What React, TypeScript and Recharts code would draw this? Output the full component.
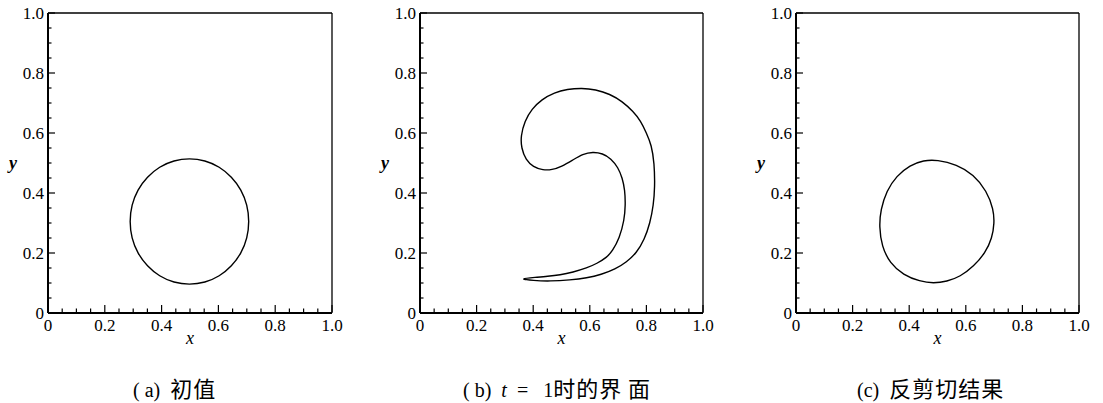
import React from 'react'
import { LineChart, Line, XAxis, YAxis } from 'recharts'

type Pt = { x: number; y: number }

// tick positions: minor every 0.05, labelled every 0.2
const tickValues = [
  0, 0.05, 0.1, 0.15, 0.2, 0.25, 0.3, 0.35, 0.4, 0.45, 0.5,
  0.55, 0.6, 0.65, 0.7, 0.75, 0.8, 0.85, 0.9, 0.95, 1.0,
]
const majorTicks = [0, 0.2, 0.4, 0.6, 0.8, 1.0]
const tickLabels = ['0', '0.2', '0.4', '0.6', '0.8', '1.0']

// (a) initial interface
const initialShape: Pt[] = [
  { x: 0.709, y: 0.305 }, { x: 0.702, y: 0.36 }, { x: 0.681, y: 0.411 },
  { x: 0.647, y: 0.454 }, { x: 0.604, y: 0.488 }, { x: 0.553, y: 0.509 },
  { x: 0.498, y: 0.516 }, { x: 0.443, y: 0.509 }, { x: 0.392, y: 0.488 },
  { x: 0.349, y: 0.454 }, { x: 0.315, y: 0.411 }, { x: 0.294, y: 0.36 },
  { x: 0.287, y: 0.305 }, { x: 0.294, y: 0.25 }, { x: 0.315, y: 0.199 },
  { x: 0.349, y: 0.156 }, { x: 0.392, y: 0.122 }, { x: 0.443, y: 0.101 },
  { x: 0.498, y: 0.094 }, { x: 0.553, y: 0.101 }, { x: 0.604, y: 0.122 },
  { x: 0.647, y: 0.156 }, { x: 0.681, y: 0.199 }, { x: 0.702, y: 0.25 },
]

// (b) interface at t = 1
const shearedShape: Pt[] = [
  { x: 0.348, y: 0.114 }, { x: 0.4, y: 0.108 }, { x: 0.46, y: 0.106 },
  { x: 0.53, y: 0.11 }, { x: 0.59, y: 0.117 }, { x: 0.64, y: 0.128 },
  { x: 0.69, y: 0.146 }, { x: 0.73, y: 0.17 }, { x: 0.765, y: 0.2 },
  { x: 0.793, y: 0.245 }, { x: 0.813, y: 0.3 }, { x: 0.825, y: 0.36 },
  { x: 0.83, y: 0.42 }, { x: 0.828, y: 0.5 }, { x: 0.818, y: 0.56 },
  { x: 0.8, y: 0.6 }, { x: 0.78, y: 0.64 }, { x: 0.753, y: 0.672 },
  { x: 0.715, y: 0.705 }, { x: 0.671, y: 0.73 }, { x: 0.62, y: 0.745 },
  { x: 0.572, y: 0.75 }, { x: 0.52, y: 0.746 }, { x: 0.475, y: 0.735 },
  { x: 0.43, y: 0.712 }, { x: 0.395, y: 0.68 }, { x: 0.37, y: 0.64 },
  { x: 0.356, y: 0.59 }, { x: 0.358, y: 0.55 }, { x: 0.374, y: 0.51 },
  { x: 0.4, y: 0.487 }, { x: 0.435, y: 0.476 }, { x: 0.466, y: 0.477 },
  { x: 0.5, y: 0.488 }, { x: 0.54, y: 0.51 }, { x: 0.575, y: 0.53 },
  { x: 0.611, y: 0.537 }, { x: 0.645, y: 0.532 }, { x: 0.675, y: 0.515 },
  { x: 0.7, y: 0.485 }, { x: 0.715, y: 0.45 }, { x: 0.724, y: 0.41 },
  { x: 0.726, y: 0.36 }, { x: 0.722, y: 0.31 }, { x: 0.705, y: 0.25 },
  { x: 0.68, y: 0.207 }, { x: 0.66, y: 0.185 }, { x: 0.625, y: 0.165 },
  { x: 0.59, y: 0.15 }, { x: 0.54, y: 0.136 }, { x: 0.495, y: 0.127 },
  { x: 0.45, y: 0.122 }, { x: 0.41, y: 0.119 },
]

// (c) after reversing the shear
const reversedShape: Pt[] = [
  { x: 0.498, y: 0.511 }, { x: 0.568, y: 0.495 }, { x: 0.627, y: 0.462 },
  { x: 0.674, y: 0.407 }, { x: 0.698, y: 0.345 }, { x: 0.701, y: 0.3 },
  { x: 0.693, y: 0.25 }, { x: 0.669, y: 0.2 }, { x: 0.628, y: 0.156 },
  { x: 0.58, y: 0.121 }, { x: 0.533, y: 0.105 }, { x: 0.486, y: 0.099 },
  { x: 0.438, y: 0.105 }, { x: 0.379, y: 0.127 }, { x: 0.332, y: 0.166 },
  { x: 0.303, y: 0.222 }, { x: 0.294, y: 0.289 }, { x: 0.299, y: 0.344 },
  { x: 0.32, y: 0.407 }, { x: 0.355, y: 0.457 }, { x: 0.403, y: 0.493 },
  { x: 0.451, y: 0.509 },
]

const serif = 'Liberation Serif, Times New Roman, Tinos, DejaVu Serif, serif'
const cjk = 'Noto Sans CJK SC, sans-serif'

const majorIndex = (v: number) => majorTicks.findIndex((m) => Math.abs(m - v) < 1e-6)

// bottom axis is 1px tall, so ticks arrive 1px below the axis line
function BottomTick({ x, y, payload }: any) {
  const i = majorIndex(payload.value)
  const y0 = y - 1
  return (
    <g>
      <line x1={x} x2={x} y1={y0} y2={y0 - (i >= 0 ? 7 : 3.5)} stroke="#000" strokeWidth={1.2} />
      {i >= 0 && (
        <text x={x} y={y0 + 19} textAnchor="middle" style={{ fontFamily: serif, fontSize: 17 }} fill="#000">
          {tickLabels[i]}
        </text>
      )}
    </g>
  )
}

function LeftTick({ x, y, payload }: any) {
  const i = majorIndex(payload.value)
  return (
    <g>
      <line x1={x} x2={x + (i >= 0 ? 7 : 3.5)} y1={y} y2={y} stroke="#000" strokeWidth={1.2} />
      {i >= 0 && (
        <text x={x - 4} y={y + 6} textAnchor="end" style={{ fontFamily: serif, fontSize: 17 }} fill="#000">
          {tickLabels[i]}
        </text>
      )}
    </g>
  )
}

const ML = 45
const MR = 25
const MT = 13
const MB = 37
const H = 350

function Panel({ data, plotLeft, plotRight }: { data: Pt[]; plotLeft: number; plotRight: number }) {
  const width = plotRight - plotLeft + ML + MR
  return (
    <div style={{ position: 'absolute', left: plotLeft - ML, top: 0 }}>
      <LineChart
        width={width}
        height={H}
        data={data}
        margin={{ top: MT - 1, right: MR - 1, bottom: MB - 1, left: ML - 1 }}
        style={{ fontFamily: serif }}
      >
        <XAxis
          xAxisId="b"
          type="number"
          dataKey="x"
          domain={[0, 1]}
          ticks={tickValues}
          interval={0}
          height={1}
          tickSize={0}
          tickMargin={0}
          tickLine={false}
          tick={<BottomTick />}
          axisLine={{ stroke: '#000', strokeWidth: 2 }}
          label={{ value: 'x', position: 'bottom', offset: 17, style: { fontFamily: serif, fontStyle: 'italic', fontSize: 18 }, fill: '#000' }}
        />
        <XAxis
          xAxisId="t"
          orientation="top"
          type="number"
          domain={[0, 1]}
          height={1}
          tick={false}
          tickLine={false}
          axisLine={{ stroke: '#000', strokeWidth: 1.3 }}
        />
        <YAxis
          yAxisId="l"
          type="number"
          domain={[0, 1]}
          ticks={tickValues}
          interval={0}
          width={1}
          tickSize={0}
          tickMargin={0}
          tickLine={false}
          tick={<LeftTick />}
          axisLine={{ stroke: '#000', strokeWidth: 2 }}
          label={{ value: 'y', position: 'left', offset: 30, style: { fontFamily: serif, fontStyle: 'italic', fontWeight: 'bold', fontSize: 18 }, fill: '#000' }}
        />
        <YAxis
          yAxisId="r"
          orientation="right"
          type="number"
          domain={[0, 1]}
          width={1}
          tick={false}
          tickLine={false}
          axisLine={{ stroke: '#000', strokeWidth: 1.3 }}
        />
        <Line
          xAxisId="b"
          yAxisId="l"
          dataKey="y"
          type="basisClosed"
          stroke="#000"
          strokeWidth={1.4}
          dot={false}
          activeDot={false}
          isAnimationActive={false}
        />
      </LineChart>
    </div>
  )
}

const capBase: React.CSSProperties = {
  position: 'absolute',
  top: 372,
  whiteSpace: 'nowrap',
  lineHeight: '30px',
  color: '#000',
}
const capLatin: React.CSSProperties = { fontFamily: serif, fontSize: 20 }
const capHan: React.CSSProperties = { fontFamily: cjk, fontSize: 22, letterSpacing: 1 }

export default function App() {
  return (
    <div style={{ position: 'absolute', left: 0, top: 0, width: 1103, height: 403, background: '#fff' }}>
      <Panel data={initialShape} plotLeft={48} plotRight={332} />
      <Panel data={shearedShape} plotLeft={420} plotRight={703} />
      <Panel data={reversedShape} plotLeft={796} plotRight={1079} />

      <div style={{ ...capBase, left: 133 }}>
        <span style={capLatin}>( a)&nbsp;&nbsp;</span>
        <span style={capHan}>初值</span>
      </div>
      <div style={{ ...capBase, left: 463 }}>
        <span style={capLatin}>( b)&nbsp;&nbsp;</span>
        <span style={{ ...capLatin, fontStyle: 'italic' }}>t</span>
        <span style={capLatin}>&nbsp;&nbsp;=&nbsp;&nbsp;&nbsp;1</span>
        <span style={capHan}>时的界 面</span>
      </div>
      <div style={{ ...capBase, left: 857 }}>
        <span style={capLatin}>(c)&nbsp;&nbsp;</span>
        <span style={capHan}>反剪切结果</span>
      </div>
    </div>
  )
}
